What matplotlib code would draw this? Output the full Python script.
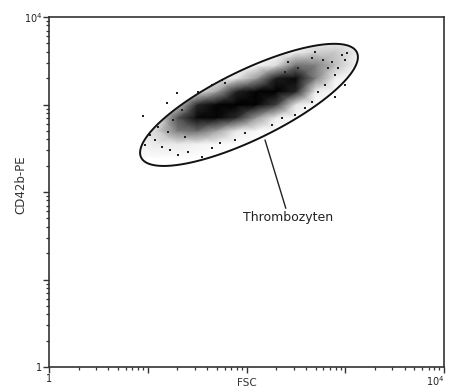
import numpy as np
import matplotlib
matplotlib.use("Agg")
import matplotlib.pyplot as plt
from matplotlib.patches import Polygon
from matplotlib.colors import LinearSegmentedColormap
from matplotlib.ticker import LogLocator, FuncFormatter, NullFormatter

# === Daten ===
# Dichte der Thrombozyten-Wolke auf einem groben Raster (0 = leer, 1 = schwarz)
fsc_grid = [7.9, 12.6, 20, 31.6, 50, 79, 126, 200, 316, 501, 794, 1259, 1995]
cd42b_grid = [251, 355, 501, 708, 1000, 1413, 1995, 2818, 3981, 5623]
density = [
    [0.04, 0.03, 0.02, 0.00, 0.00, 0.00, 0.00, 0.00, 0.00, 0.00, 0.00, 0.00, 0.00],
    [0.08, 0.12, 0.12, 0.09, 0.05, 0.01, 0.00, 0.00, 0.00, 0.00, 0.00, 0.00, 0.00],
    [0.06, 0.18, 0.36, 0.40, 0.28, 0.12, 0.05, 0.00, 0.00, 0.00, 0.00, 0.00, 0.00],
    [0.02, 0.12, 0.45, 0.80, 0.85, 0.55, 0.30, 0.11, 0.02, 0.00, 0.00, 0.00, 0.00],
    [0.00, 0.03, 0.18, 0.56, 0.87, 1.00, 0.90, 0.50, 0.13, 0.02, 0.00, 0.00, 0.00],
    [0.00, 0.00, 0.04, 0.12, 0.28, 0.60, 0.90, 1.00, 0.60, 0.11, 0.02, 0.00, 0.00],
    [0.00, 0.00, 0.00, 0.02, 0.05, 0.13, 0.30, 0.65, 0.80, 0.35, 0.09, 0.02, 0.00],
    [0.00, 0.00, 0.00, 0.00, 0.00, 0.01, 0.05, 0.15, 0.38, 0.35, 0.22, 0.08, 0.00],
    [0.00, 0.00, 0.00, 0.00, 0.00, 0.00, 0.00, 0.02, 0.09, 0.18, 0.20, 0.12, 0.00],
    [0.00, 0.00, 0.00, 0.00, 0.00, 0.00, 0.00, 0.00, 0.00, 0.05, 0.08, 0.07, 0.00],
]

# einzelne Ereignisse am Rand der Wolke
dots_fsc = [8.95, 15.7, 19.8, 22.2, 11.8, 10.5, 13.9, 16.8, 20.2, 25.6, 9.4, 12.7,
            16.0, 32.3, 44.8, 56.5, 60.6, 35.4, 44.8, 53.9, 76.5, 96.5, 18.0, 23.8,
            494, 596, 734, 927, 1042, 994, 787, 994, 624, 530, 787, 460,
            391, 310, 332, 245, 263, 460, 229, 181, 669, 845]
dots_cd42b = [739, 1040, 1353, 865, 393, 448, 327, 302, 265, 287, 345, 553,
              485, 1390, 1671, 1905, 1762, 251, 318, 363, 393, 472, 665, 425,
              3981, 3225, 3061, 3680, 3879, 3225, 2173, 1671, 1671, 1390, 1219, 1069,
              912, 759, 2613, 2352, 3061, 3398, 701, 583, 2613, 2613]

# Gate (Ellipse): Mittelpunkt in Datenwerten, Halbachsen in Pixeln, Winkel in Grad
gate_center = (106, 990)
gate_a, gate_b, gate_angle = 120, 34.5, 26

label_xy = (154, 393)      # Punkt am Gate
label_text_xy = (266, 51)  # Beschriftung

# === Abbildung ===
W, H = 451, 387
fig = plt.figure(figsize=(W / 100, H / 100), dpi=100)
ax = fig.add_axes([49 / W, 20 / H, 395 / W, 350 / H])
ax.set_xscale("log")
ax.set_yscale("log")
ax.set_xlim(1, 1e4)
ax.set_ylim(1, 1e4)

# Gate-Polygon berechnen
px_dec_x = 395 / 4
px_dec_y = 350 / 4
t = np.linspace(0, 2 * np.pi, 300)
th = np.radians(gate_angle)
u = gate_a * np.cos(t) * np.cos(th) - gate_b * np.sin(t) * np.sin(th)
v = gate_a * np.cos(t) * np.sin(th) + gate_b * np.sin(t) * np.cos(th)
gx = 10 ** (np.log10(gate_center[0]) + u / px_dec_x)
gy = 10 ** (np.log10(gate_center[1]) + v / px_dec_y)

gate = Polygon(np.column_stack([gx, gy]), closed=True, fill=False,
               edgecolor="#111111", linewidth=1.4, zorder=5)
ax.add_patch(gate)

# Wolke
cmap = LinearSegmentedColormap.from_list(
    "dots", [(0, "#ffffff"), (0.1, "#f0f0f0"), (0.2, "#c8c8c8"),
             (0.35, "#808080"), (0.55, "#2a2a2a"), (0.8, "#080808"),
             (1, "#000000")])
X, Y = np.meshgrid(fsc_grid, cd42b_grid)
mesh = ax.pcolormesh(X, Y, np.array(density), shading="gouraud", cmap=cmap,
                     vmin=0, vmax=1, zorder=2)
clip = Polygon(np.column_stack([gx, gy]), closed=True, transform=ax.transData)
mesh.set_clip_path(clip)

ax.scatter(dots_fsc, dots_cd42b, s=2.5, marker="s", color="#222222",
           linewidths=0, zorder=3)

# Beschriftung
ax.annotate("Thrombozyten", xy=label_xy, xytext=label_text_xy,
            fontsize=9, color="#222222", ha="center", va="center",
            arrowprops=dict(arrowstyle="-", color="#222222", lw=1.0,
                            shrinkA=0, shrinkB=0, relpos=(0.48, 1.0)))

# Achsen
for sp in ax.spines.values():
    sp.set_color("#333333")
    sp.set_linewidth(1.2)

fmt = FuncFormatter(lambda v, p: {1: "1", 1e4: r"$10^4$"}.get(v, ""))
for axis in (ax.xaxis, ax.yaxis):
    axis.set_major_locator(LogLocator(base=10, numticks=10))
    axis.set_minor_locator(LogLocator(base=10, subs=np.arange(2, 10), numticks=20))
    axis.set_major_formatter(fmt)
    axis.set_minor_formatter(NullFormatter())
ax.tick_params(which="major", direction="out", length=4, width=1.0,
               color="#333333", labelsize=7, labelcolor="#222222", pad=1)
ax.tick_params(which="minor", direction="out", length=2.5, width=0.9,
               color="#333333")

# 10^4 an der x-Achse etwas nach links, damit es im Bild bleibt
fig.canvas.draw()
for lbl in ax.get_xticklabels():
    if lbl.get_text() == r"$10^4$":
        lbl.set_horizontalalignment("right")
        lbl.set_x(1e4 * 10 ** 0.06)

ax.set_xlabel("FSC", fontsize=7.5, color="#333333", labelpad=-7)
ax.set_ylabel("CD42b-PE", fontsize=8.5, color="#333333")
ax.yaxis.set_label_coords(-0.055, 0.52)

fig.savefig("out.png", dpi=100)
